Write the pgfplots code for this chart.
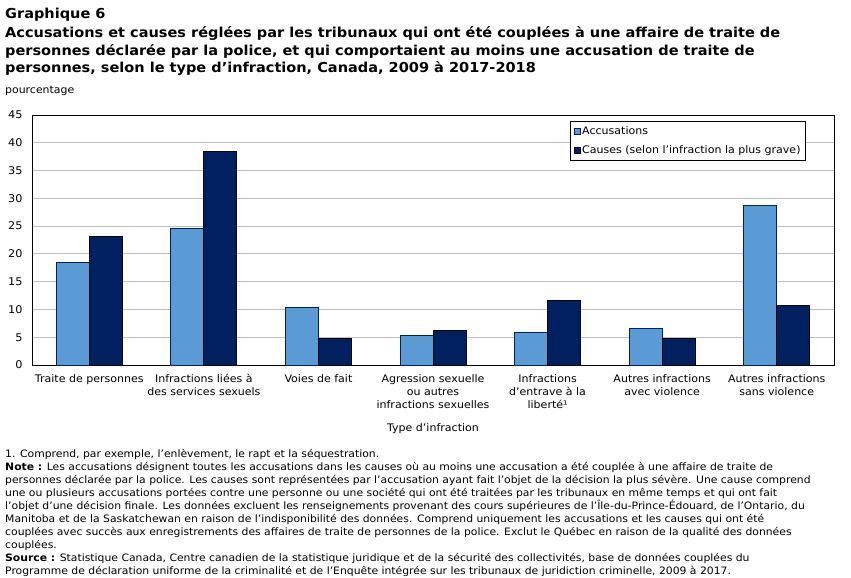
\documentclass[border=0pt]{standalone}
\usepackage{fontspec}
\setmainfont{DejaVu Sans}[FakeStretch=1.06]
\usepackage{pgfplots}
\pgfplotsset{compat=1.18}
\definecolor{lightbar}{RGB}{91,155,213}
\definecolor{darkbar}{RGB}{0,32,96}
\definecolor{gridc}{RGB}{192,192,192}
\begin{document}
\begin{tikzpicture}
\path[use as bounding box] (0pt,0pt) rectangle (851pt,-578pt);
\node[anchor=west,inner sep=0pt,font=\fontsize{13.7}{18}\selectfont\bfseries] at (5pt,-15pt) {Graphique 6};
\node[anchor=west,inner sep=0pt,font=\fontsize{13.7}{18}\selectfont\bfseries] at (5pt,-33pt) {Accusations et causes réglées par les tribunaux qui ont été couplées à une affaire de traite de};
\node[anchor=west,inner sep=0pt,font=\fontsize{13.7}{18}\selectfont\bfseries] at (5pt,-51pt) {personnes déclarée par la police, et qui comportaient au moins une accusation de traite de};
\node[anchor=west,inner sep=0pt,font=\fontsize{13.7}{18}\selectfont\bfseries] at (5pt,-69pt) {personnes, selon le type d’infraction, Canada, 2009 à 2017-2018};
\node[anchor=west,inner sep=0pt,font=\fontsize{10.3}{13}\selectfont] at (5pt,-91pt) {pourcentage};
\begin{axis}[
  at={(32pt,-365pt)}, anchor=south west,
  scale only axis, width=802pt, height=250pt,
  ymin=0, ymax=45, ytick={0,5,...,45},
  xmin=-0.5, xmax=6.5,
  xtick={0,...,6},
  xticklabels={Traite de personnes, Infractions liées à\\des services sexuels, Voies de fait, Agression sexuelle\\ou autres\\infractions sexuelles, Infractions\\d’entrave à la\\liberté¹, Autres infractions\\avec violence, Autres infractions\\sans violence},
  xticklabel style={align=center, font=\fontsize{10.4}{13}\selectfont, anchor=north, yshift=-6pt},
  yticklabel style={font=\fontsize{10.6}{13}\selectfont, xshift=-6pt},
  /pgf/number format/assume math mode=true,
  major tick length=0pt,
  ymajorgrids, grid style={gridc, line width=0.8pt},
  axis line style={black, line width=0.8pt},
  ybar, bar width=0.288,
  xlabel={Type d’infraction},
  xlabel style={font=\fontsize{10.4}{13}\selectfont, at={(axis description cs:0.5,0)}, anchor=north, yshift=-55pt},
  legend style={at={(axis description cs:0.965,0.975)}, anchor=north east, draw=black, line width=0.8pt, font=\fontsize{10.4}{13}\selectfont, inner sep=3pt, row sep=6pt, cells={anchor=west}},
  legend image code/.code={\draw[#1, line width=0.6pt] (0pt,-3pt) rectangle (6pt,3pt);},
]
\addplot[fill=lightbar, draw=darkbar, line width=0.8pt, bar shift=-0.144] coordinates {(0,18.4) (1,24.55) (2,10.3) (3,5.4) (4,5.8) (5,6.5) (6,28.7)};
\addplot[fill=darkbar, draw=black, line width=0.8pt, bar shift=0.144] coordinates {(0,23.1) (1,38.45) (2,4.7) (3,6.3) (4,11.7) (5,4.7) (6,10.65)};
\legend{Accusations, Causes (selon l’infraction la plus grave)}
\end{axis}
\node[anchor=north west,inner sep=0pt,align=left,font=\fontsize{10.2}{13}\selectfont] at (5pt,-449pt) {1. Comprend, par exemple, l’enlèvement, le rapt et la séquestration.\\
\textbf{Note :} Les accusations désignent toutes les accusations dans les causes où au moins une accusation a été couplée à une affaire de traite de\\
personnes déclarée par la police. Les causes sont représentées par l’accusation ayant fait l’objet de la décision la plus sévère. Une cause comprend\\
une ou plusieurs accusations portées contre une personne ou une société qui ont été traitées par les tribunaux en même temps et qui ont fait\\
l’objet d’une décision finale. Les données excluent les renseignements provenant des cours supérieures de l’Île-du-Prince-Édouard, de l’Ontario, du\\
Manitoba et de la Saskatchewan en raison de l’indisponibilité des données. Comprend uniquement les accusations et les causes qui ont été\\
couplées avec succès aux enregistrements des affaires de traite de personnes de la police. Exclut le Québec en raison de la qualité des données\\
couplées.\\
\textbf{Source :} Statistique Canada, Centre canadien de la statistique juridique et de la sécurité des collectivités, base de données couplées du\\
Programme de déclaration uniforme de la criminalité et de l’Enquête intégrée sur les tribunaux de juridiction criminelle, 2009 à 2017.};
\end{tikzpicture}
\end{document}
